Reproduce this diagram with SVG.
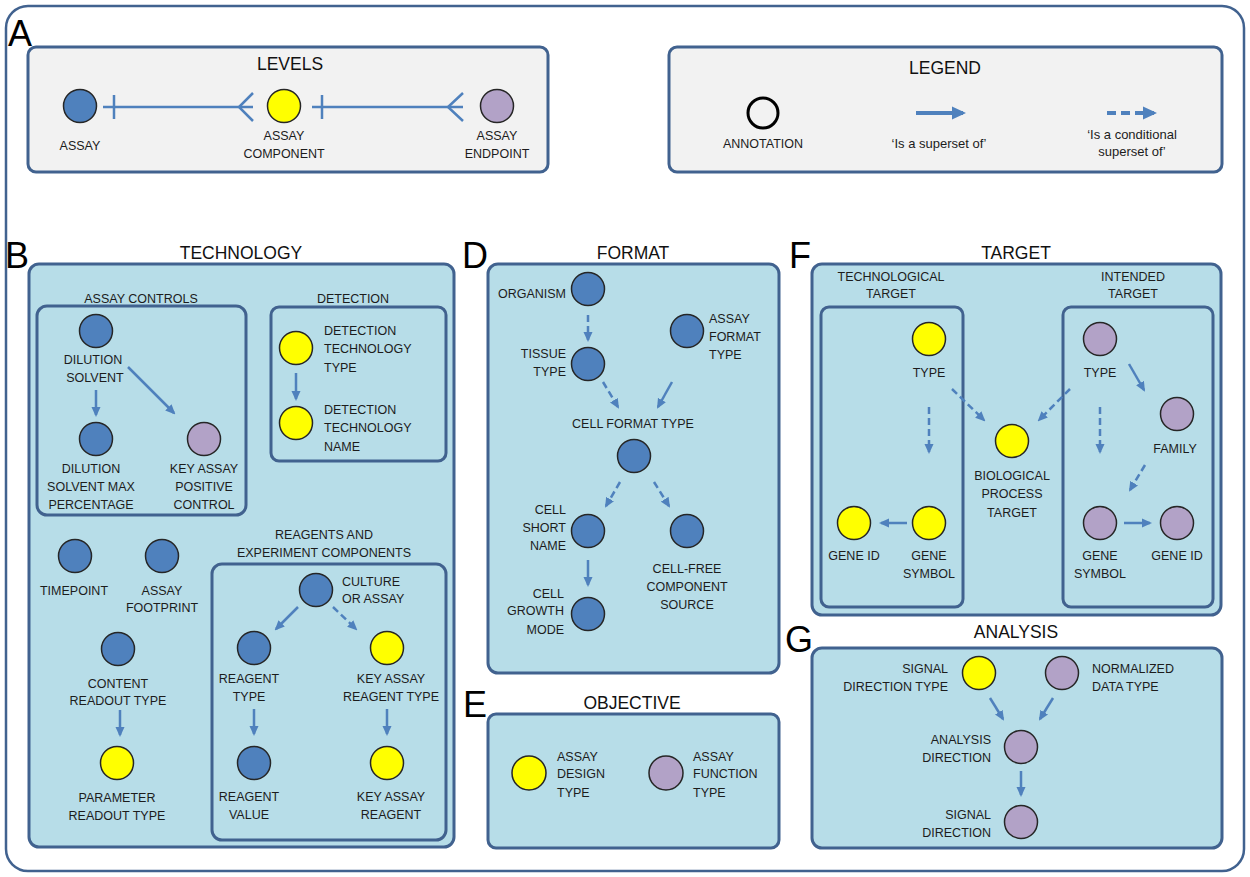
<svg xmlns="http://www.w3.org/2000/svg" width="1250" height="877" viewBox="0 0 1250 877">
<style>
text{font-family:"Liberation Sans",Arial,sans-serif;font-size:12.5px;fill:#1c1c1c}
.m{text-anchor:middle}
.e{text-anchor:end}
.ttl{font-size:17.5px;fill:#111}
.big{font-size:36px;fill:#000}
.box{fill:#b7dde8;stroke:#41628f;stroke-width:3}
.gbox{fill:#f2f2f2;stroke:#41628f;stroke-width:3}
.nb{fill:#4f81bd;stroke:#262626;stroke-width:1.5}
.ny{fill:#ffff00;stroke:#262626;stroke-width:1.5}
.np{fill:#b2a2c7;stroke:#262626;stroke-width:1.5}
.c{stroke:#4f81bd;stroke-width:2.5;fill:none;marker-end:url(#ah)}
.d{stroke-dasharray:7 4}
.lv{stroke:#4f81bd;stroke-width:2.5;fill:none}
</style>
<defs>
<marker id="ah" markerUnits="userSpaceOnUse" markerWidth="10" markerHeight="10" viewBox="0 0 10 10" refX="8" refY="5" orient="auto"><path d="M0,0.5 L10,5 L0,9.5z" fill="#4f81bd"/></marker>
<marker id="ahL" markerUnits="userSpaceOnUse" markerWidth="14" markerHeight="14" viewBox="0 0 14 14" refX="11" refY="7" orient="auto"><path d="M0,0.5 L14,7 L0,13.5z" fill="#4f81bd"/></marker>
</defs>
<rect x="6" y="6" width="1238" height="865" rx="22" fill="#fff" stroke="#41628f" stroke-width="2.5"/>

<!-- section letters and titles -->
<g id="letters">
<text class="big m" x="20" y="46">A</text>
<text class="big m" x="17" y="268">B</text>
<text class="big m" x="264" y="303">C</text>
<text class="big m" x="475" y="268">D</text>
<text class="big m" x="475" y="717">E</text>
<text class="big m" x="800" y="268">F</text>
<text class="big m" x="799" y="652">G</text>
</g>

<!-- A: levels -->
<g id="levels-box">
<rect class="gbox" x="28" y="47" width="520" height="125" rx="8"/>
<text class="ttl m" x="290" y="70">LEVELS</text>
</g>
<g id="lv-assay"><circle class="nb" cx="80" cy="106" r="16.5"/><text class="m" x="80" y="149.5">ASSAY</text></g>
<g id="lv-component"><circle class="ny" cx="284" cy="106" r="16.5"/><text class="m" x="284" y="139.5">ASSAY</text><text class="m" x="284" y="157.5">COMPONENT</text></g>
<g id="lv-endpoint"><circle class="np" cx="497" cy="106" r="16.5"/><text class="m" x="497" y="139.5">ASSAY</text><text class="m" x="497" y="157.5">ENDPOINT</text></g>

<!-- legend -->
<g id="legend">
<rect class="gbox" x="669" y="47" width="553" height="125" rx="8"/>
<text class="ttl m" x="945" y="74">LEGEND</text>
<circle cx="763" cy="113" r="15" fill="none" stroke="#000" stroke-width="3"/>
<text class="m" x="763" y="147.5">ANNOTATION</text>
<line x1="916" y1="113" x2="963" y2="113" stroke="#4f81bd" stroke-width="4" marker-end="url(#ahL)"/>
<text class="m" x="939" y="147.5" style="font-size:13px">‘Is a superset of’</text>
<line x1="1107" y1="113" x2="1154" y2="113" stroke="#4f81bd" stroke-width="4" stroke-dasharray="9 5" marker-end="url(#ahL)"/>
<text class="m" x="1132" y="138.5" style="font-size:13px">‘Is a conditional</text>
<text class="m" x="1132" y="155.5" style="font-size:13px">superset of’</text>
</g>

<!-- boxes -->
<g id="tech-box"><rect class="box" x="29" y="264" width="425" height="583" rx="10"/><text class="ttl m" x="241" y="259">TECHNOLOGY</text></g>
<g id="controls-box"><rect class="box" x="37" y="306" width="209" height="209" rx="10"/><text class="m" x="141" y="302.5">ASSAY CONTROLS</text></g>
<g id="detection-box"><rect class="box" x="271" y="307" width="175" height="154" rx="8"/><text class="m" x="353" y="302.5">DETECTION</text></g>
<g id="reagents-box"><rect class="box" x="212" y="564" width="234" height="276" rx="10"/><text class="m" x="324" y="538.5">REAGENTS AND</text><text class="m" x="324" y="556.5">EXPERIMENT COMPONENTS</text></g>
<g id="format-box"><rect class="box" x="488" y="264" width="291" height="409" rx="10"/><text class="ttl m" x="633" y="259">FORMAT</text></g>
<g id="objective-box"><rect class="box" x="488" y="714" width="291" height="134" rx="8"/><text class="ttl m" x="632" y="709">OBJECTIVE</text></g>
<g id="target-box"><rect class="box" x="812" y="264" width="409" height="351" rx="10"/><text class="ttl m" x="1016" y="259">TARGET</text></g>
<g id="tech-target-box"><rect class="box" x="821" y="307" width="142" height="300" rx="8"/><text class="m" x="891" y="280.5">TECHNOLOGICAL</text><text class="m" x="891" y="297.5">TARGET</text></g>
<g id="intended-target-box"><rect class="box" x="1063" y="307" width="150" height="300" rx="8"/><text class="m" x="1133" y="280.5">INTENDED</text><text class="m" x="1133" y="297.5">TARGET</text></g>
<g id="analysis-box"><rect class="box" x="812" y="648" width="410" height="200" rx="10"/><text class="ttl m" x="1016" y="638">ANALYSIS</text></g>

<!-- connectors -->
<g id="connectors">
<line class="lv" x1="103" y1="107" x2="253" y2="107"/>
<line class="lv" x1="114" y1="95" x2="114" y2="119"/>
<polyline class="lv" points="253,93 239,107 253,121"/>
<line class="lv" x1="312" y1="107" x2="463" y2="107"/>
<line class="lv" x1="322" y1="95" x2="322" y2="119"/>
<polyline class="lv" points="463,93 448,107 463,121"/>

<line class="c" x1="96" y1="390" x2="96" y2="415"/>
<line class="c" x1="128" y1="367" x2="174" y2="413"/>
<line class="c" x1="296" y1="373" x2="296" y2="399"/>
<line class="c" x1="120" y1="710" x2="120" y2="735"/>
<line class="c" x1="298" y1="607" x2="276" y2="629"/>
<line class="c d" x1="333" y1="607" x2="356" y2="629"/>
<line class="c" x1="254" y1="709" x2="254" y2="734"/>
<line class="c" x1="387" y1="709" x2="387" y2="734"/>

<line class="c d" x1="588" y1="315" x2="588" y2="340"/>
<line class="c d" x1="603" y1="382" x2="618" y2="407"/>
<line class="c" x1="672" y1="382" x2="658" y2="407"/>
<line class="c d" x1="620" y1="482" x2="606" y2="506"/>
<line class="c d" x1="654" y1="482" x2="669" y2="506"/>
<line class="c" x1="588" y1="560" x2="588" y2="585"/>

<line class="c d" x1="929" y1="407" x2="929" y2="452"/>
<line class="c" x1="907" y1="523" x2="881" y2="523"/>
<line class="c d" x1="952" y1="389" x2="984" y2="420"/>
<line class="c d" x1="1070" y1="389" x2="1039" y2="420"/>
<line class="c" x1="1129" y1="364" x2="1144" y2="390"/>
<line class="c d" x1="1100" y1="407" x2="1100" y2="452"/>
<line class="c d" x1="1145" y1="465" x2="1130" y2="490"/>
<line class="c" x1="1124" y1="523" x2="1150" y2="523"/>

<line class="c" x1="990" y1="698" x2="1003" y2="719"/>
<line class="c" x1="1053" y1="698" x2="1040" y2="719"/>
<line class="c" x1="1021" y1="771" x2="1021" y2="795"/>
</g>

<!-- B nodes -->
<g id="dilution-solvent"><circle class="nb" cx="96" cy="331" r="16.5"/><text class="m" x="93" y="363.5">DILUTION</text><text class="m" x="95" y="381.5">SOLVENT</text></g>
<g id="dilution-max"><circle class="nb" cx="96" cy="439" r="16.5"/><text class="m" x="91" y="472.5">DILUTION</text><text class="m" x="91" y="490.5">SOLVENT MAX</text><text class="m" x="91" y="508.5">PERCENTAGE</text></g>
<g id="key-positive-control"><circle class="np" cx="204" cy="439" r="16.5"/><text class="m" x="204" y="472.5">KEY ASSAY</text><text class="m" x="204" y="490.5">POSITIVE</text><text class="m" x="204" y="508.5">CONTROL</text></g>
<g id="detection-type"><circle class="ny" cx="296" cy="348" r="16.5"/><text x="324" y="334.5">DETECTION</text><text x="324" y="352.5">TECHNOLOGY</text><text x="324" y="371.5">TYPE</text></g>
<g id="detection-name"><circle class="ny" cx="296" cy="423" r="16.5"/><text x="324" y="413.5">DETECTION</text><text x="324" y="431.5">TECHNOLOGY</text><text x="324" y="450.5">NAME</text></g>
<g id="timepoint"><circle class="nb" cx="75" cy="556" r="16.5"/><text class="m" x="74" y="594.5">TIMEPOINT</text></g>
<g id="assay-footprint"><circle class="nb" cx="162" cy="556" r="16.5"/><text class="m" x="162" y="594.5">ASSAY</text><text class="m" x="162" y="611.5">FOOTPRINT</text></g>
<g id="content-readout"><circle class="nb" cx="118" cy="649" r="16.5"/><text class="m" x="118" y="687.5">CONTENT</text><text class="m" x="118" y="704.5">READOUT TYPE</text></g>
<g id="parameter-readout"><circle class="ny" cx="117" cy="763" r="16.5"/><text class="m" x="117" y="801.5">PARAMETER</text><text class="m" x="117" y="819.5">READOUT TYPE</text></g>
<g id="culture-or-assay"><circle class="nb" cx="316" cy="590" r="16.5"/><text x="342" y="585.5">CULTURE</text><text x="342" y="602.5">OR ASSAY</text></g>
<g id="reagent-type"><circle class="nb" cx="254" cy="648" r="16.5"/><text class="m" x="249" y="682.5">REAGENT</text><text class="m" x="249" y="700.5">TYPE</text></g>
<g id="key-reagent-type"><circle class="ny" cx="387" cy="648" r="16.5"/><text class="m" x="391" y="682.5">KEY ASSAY</text><text class="m" x="391" y="700.5">REAGENT TYPE</text></g>
<g id="reagent-value"><circle class="nb" cx="254" cy="763" r="16.5"/><text class="m" x="249" y="800.5">REAGENT</text><text class="m" x="249" y="818.5">VALUE</text></g>
<g id="key-reagent"><circle class="ny" cx="387" cy="763" r="16.5"/><text class="m" x="391" y="800.5">KEY ASSAY</text><text class="m" x="391" y="818.5">REAGENT</text></g>

<!-- D nodes -->
<g id="organism"><circle class="nb" cx="588" cy="289" r="16.5"/><text class="e" x="566" y="297.5">ORGANISM</text></g>
<g id="tissue-type"><circle class="nb" cx="588" cy="364" r="16.5"/><text class="e" x="566" y="357.5">TISSUE</text><text class="e" x="566" y="375.5">TYPE</text></g>
<g id="assay-format-type"><circle class="nb" cx="687" cy="331" r="16.5"/><text x="709" y="322.5">ASSAY</text><text x="709" y="340.5">FORMAT</text><text x="709" y="358.5">TYPE</text></g>
<g id="cell-format-type"><text class="m" x="633" y="427.5">CELL FORMAT TYPE</text><circle class="nb" cx="634" cy="456" r="16.5"/></g>
<g id="cell-short-name"><circle class="nb" cx="588" cy="531" r="16.5"/><text class="e" x="566" y="513.5">CELL</text><text class="e" x="566" y="531.5">SHORT</text><text class="e" x="566" y="549.5">NAME</text></g>
<g id="cell-free"><circle class="nb" cx="687" cy="531" r="16.5"/><text class="m" x="687" y="572.5">CELL-FREE</text><text class="m" x="687" y="590.5">COMPONENT</text><text class="m" x="687" y="608.5">SOURCE</text></g>
<g id="cell-growth-mode"><circle class="nb" cx="588" cy="614" r="16.5"/><text class="e" x="564" y="597.5">CELL</text><text class="e" x="564" y="614.5">GROWTH</text><text class="e" x="564" y="633.5">MODE</text></g>

<!-- E nodes -->
<g id="assay-design-type"><circle class="ny" cx="529" cy="773" r="17"/><text x="557" y="760.5">ASSAY</text><text x="557" y="777.5">DESIGN</text><text x="557" y="796.5">TYPE</text></g>
<g id="assay-function-type"><circle class="np" cx="666" cy="773" r="17"/><text x="693" y="760.5">ASSAY</text><text x="693" y="777.5">FUNCTION</text><text x="693" y="796.5">TYPE</text></g>

<!-- F nodes -->
<g id="tt-type"><circle class="ny" cx="929" cy="339" r="16.5"/><text class="m" x="929" y="376.5">TYPE</text></g>
<g id="tt-gene-symbol"><circle class="ny" cx="929" cy="523" r="16.5"/><text class="m" x="929" y="559.5">GENE</text><text class="m" x="929" y="577.5">SYMBOL</text></g>
<g id="tt-gene-id"><circle class="ny" cx="854" cy="523" r="16.5"/><text class="m" x="854" y="559.5">GENE ID</text></g>
<g id="bio-process-target"><circle class="ny" cx="1012" cy="441" r="16.5"/><text class="m" x="1012" y="479.5">BIOLOGICAL</text><text class="m" x="1012" y="497.5">PROCESS</text><text class="m" x="1012" y="516.5">TARGET</text></g>
<g id="it-type"><circle class="np" cx="1100" cy="339" r="16.5"/><text class="m" x="1100" y="376.5">TYPE</text></g>
<g id="it-family"><circle class="np" cx="1177" cy="414" r="16.5"/><text class="m" x="1175" y="452.5">FAMILY</text></g>
<g id="it-gene-symbol"><circle class="np" cx="1100" cy="523" r="16.5"/><text class="m" x="1100" y="559.5">GENE</text><text class="m" x="1100" y="577.5">SYMBOL</text></g>
<g id="it-gene-id"><circle class="np" cx="1177" cy="523" r="16.5"/><text class="m" x="1177" y="559.5">GENE ID</text></g>

<!-- G nodes -->
<g id="signal-direction-type"><circle class="ny" cx="979" cy="673" r="16.5"/><text class="e" x="948" y="672.5">SIGNAL</text><text class="e" x="948" y="690.5">DIRECTION TYPE</text></g>
<g id="normalized-data-type"><circle class="np" cx="1062" cy="673" r="16.5"/><text x="1092" y="672.5">NORMALIZED</text><text x="1092" y="690.5">DATA TYPE</text></g>
<g id="analysis-direction"><circle class="np" cx="1021" cy="747" r="16.5"/><text class="e" x="991" y="743.5">ANALYSIS</text><text class="e" x="991" y="761.5">DIRECTION</text></g>
<g id="signal-direction"><circle class="np" cx="1021" cy="822" r="16.5"/><text class="e" x="991" y="818.5">SIGNAL</text><text class="e" x="991" y="836.5">DIRECTION</text></g>
</svg>
